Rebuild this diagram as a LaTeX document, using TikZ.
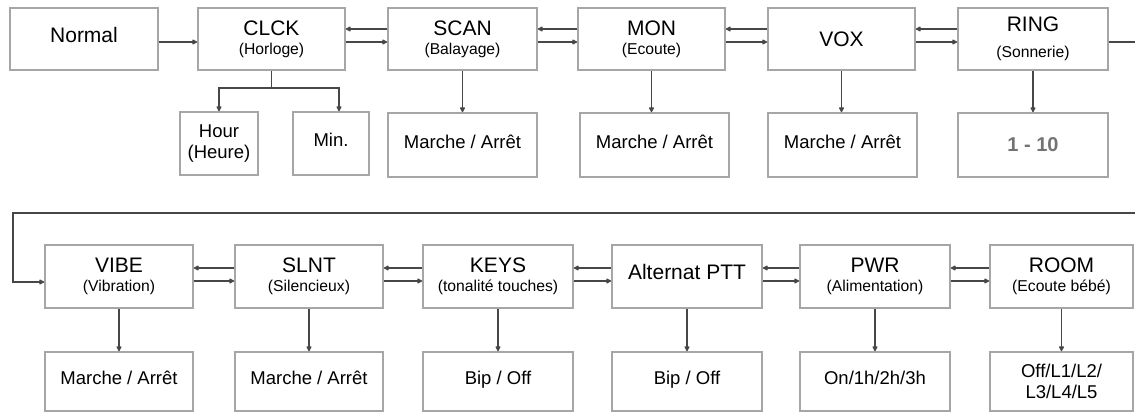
\documentclass[tikz,border=0pt]{standalone}
\usepackage{fontspec}
\setmainfont{Liberation Sans}
\usetikzlibrary{arrows.meta,calc}
\newcommand\subt[1]{{\fontsize{15.7}{19}\selectfont #1}}
\tikzset{
  box/.style={draw=black!35, line width=1.6pt, fill=white, inner sep=0pt, align=center,
    font=\fontsize{21}{19}\selectfont},
  optbox/.style={box, font=\fontsize{18.5}{21}\selectfont},
  raised/.style={text height=14pt, text depth=8pt},
  conn/.style={draw=black!72, line width=1.7pt, -{Latex[length=6pt,width=6.5pt,round]}},
  wire/.style={draw=black!72, line width=1.7pt}
}
\begin{document}
\begin{tikzpicture}[x=1pt,y=-1pt]
\useasboundingbox (0,0) rectangle (1135,413);
% top row
\node[box, raised, minimum width=148pt, minimum height=62pt] (normal) at (84,39) {Normal};
\node[box, minimum width=147pt, minimum height=62pt] (clck) at (271.5,39) {CLCK\\\subt{(Horloge)}};
\node[box, minimum width=149pt, minimum height=62pt] (scan) at (462.5,39) {SCAN\\\subt{(Balayage)}};
\node[box, minimum width=147pt, minimum height=62pt] (mon) at (651.5,39) {MON\\\subt{(Ecoute)}};
\node[box, minimum width=147pt, minimum height=62pt] (vox) at (841.5,39) {VOX};
\node[box, minimum width=150pt, minimum height=62pt] (ring) at (1033,39) {RING\\[7pt]\subt{(Sonnerie)}};
% top options
\node[optbox, minimum width=78pt, minimum height=63pt] (hour) at (219,143.5) {Hour\\(Heure)};
\node[optbox, raised, minimum width=76pt, minimum height=63pt] (min) at (331,143.5) {Min.};
\node[optbox, raised, minimum width=149pt, minimum height=64pt] (scanopt) at (462.5,145) {Marche / Arrêt};
\node[optbox, raised, minimum width=149pt, minimum height=64pt] (monopt) at (654.5,145) {Marche / Arrêt};
\node[optbox, raised, minimum width=149pt, minimum height=64pt] (voxopt) at (842.5,145) {Marche / Arrêt};
\node[optbox, minimum width=150pt, minimum height=64pt, font=\fontsize{20}{21}\selectfont\bfseries, text=black!55] (ringopt) at (1033,145) {1 - 10};
% bottom row
\node[box, minimum width=148pt, minimum height=63pt] (vibe) at (119,276.5) {VIBE\\\subt{(Vibration)}};
\node[box, minimum width=148pt, minimum height=63pt] (slnt) at (309,276.5) {SLNT\\\subt{(Silencieux)}};
\node[box, minimum width=150pt, minimum height=63pt] (keys) at (498,276.5) {KEYS\\\subt{(tonalité touches)}};
\node[box, raised, minimum width=150pt, minimum height=63pt] (ptt) at (687,276.5) {Alternat PTT};
\node[box, minimum width=150pt, minimum height=63pt] (pwr) at (875,276.5) {PWR\\\subt{(Alimentation)}};
\node[box, minimum width=143pt, minimum height=63pt] (room) at (1061.5,276.5) {ROOM\\\subt{(Ecoute bébé)}};
% bottom options
\node[optbox, raised, minimum width=148pt, minimum height=59pt] (vibeopt) at (119,381.5) {Marche / Arrêt};
\node[optbox, raised, minimum width=148pt, minimum height=59pt] (slntopt) at (309,381.5) {Marche / Arrêt};
\node[optbox, raised, minimum width=150pt, minimum height=59pt] (keysopt) at (498,381.5) {Bip / Off};
\node[optbox, raised, minimum width=150pt, minimum height=59pt] (pttopt) at (687,381.5) {Bip / Off};
\node[optbox, raised, minimum width=150pt, minimum height=59pt] (pwropt) at (875,381.5) {On/1h/2h/3h};
\node[optbox, minimum width=143pt, minimum height=59pt] (roomopt) at (1061.5,381.5) {Off/L1/L2/\\L3/L4/L5};
% level coordinates
\coordinate (tu) at (0,29);
\coordinate (tl) at (0,42);
\coordinate (bu) at (0,268);
\coordinate (bl) at (0,281);
\coordinate (fork) at (0,88);
% Normal -> CLCK
\draw[conn] (normal.east |- tl) -- (clck.west |- tl);
% top pairs
\foreach \a/\b in {clck/scan, scan/mon, mon/vox, vox/ring}{
  \draw[conn] (\b.west |- tu) -- (\a.east |- tu);
  \draw[conn] (\a.east |- tl) -- (\b.west |- tl);
}
% bottom pairs
\foreach \a/\b in {vibe/slnt, slnt/keys, keys/ptt, ptt/pwr, pwr/room}{
  \draw[conn] (\b.west |- bu) -- (\a.east |- bu);
  \draw[conn] (\a.east |- bl) -- (\b.west |- bl);
}
% wrap from RING to VIBE
\coordinate (wa) at (1150,42);
\coordinate (wb) at (1150,213);
\coordinate (wc) at (13,213);
\coordinate (wd) at (13,282);
\draw[conn] (ring.east |- wa) -- (wa) -- (wb) -- (wc) -- (wd) -- (vibe.west |- wd);
% CLCK fork
\draw[wire] (clck.south) -- (clck.south |- fork);
\draw[conn] (clck.south |- fork) -| (hour.north);
\draw[conn] (clck.south |- fork) -| ([xshift=8pt]min.north);
% option stems
\foreach \a in {scan, mon, vox, ring, vibe, slnt, keys, ptt, pwr, room}{
  \draw[conn] (\a.south) -- (\a.south |- \a opt.north);
}
\end{tikzpicture}
\end{document}
